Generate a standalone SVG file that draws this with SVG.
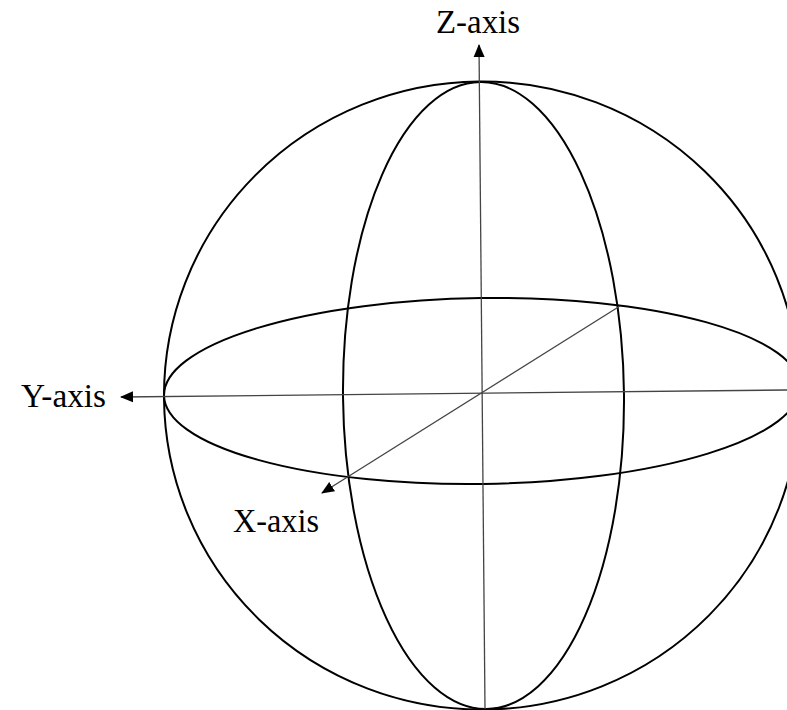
<svg xmlns="http://www.w3.org/2000/svg" width="787" height="710" viewBox="0 0 787 710">
  <style>
    .shape { fill: none; stroke: #000; stroke-width: 2; }
    .axis { fill: none; stroke: #444; stroke-width: 1.3; }
    .label { font-family: "Liberation Serif", "Times New Roman", serif; font-size: 34px; fill: #000; }
  </style>
  <defs>
    <marker id="arrow" markerWidth="13" markerHeight="12" refX="12" refY="5.5" orient="auto" markerUnits="userSpaceOnUse" viewBox="0 0 13 11">
      <path d="M0,0 L13,5.5 L0,11 Z" fill="#000"/>
    </marker>
  </defs>
  <rect width="787" height="710" fill="#fff"/>
  <g id="sphere">
    <ellipse class="shape" cx="482" cy="395.5" rx="318" ry="314" transform="rotate(-0.55 482 395.5)"/>
  </g>
  <g id="equator">
    <ellipse class="shape" cx="482" cy="391" rx="318" ry="93" transform="rotate(-0.8 482 391)"/>
  </g>
  <g id="meridian">
    <ellipse class="shape" cx="483.5" cy="395.5" rx="140.5" ry="313.5" transform="rotate(-0.55 483.5 395.5)"/>
  </g>
  <g id="connectors">
    <line class="axis" x1="485" y1="709" x2="479" y2="45" marker-end="url(#arrow)"/>
    <line class="axis" x1="787" y1="390" x2="121" y2="397" marker-end="url(#arrow)"/>
    <line class="axis" x1="620" y1="306" x2="322" y2="493" marker-end="url(#arrow)"/>
  </g>
  <g id="z-label"><text class="label" x="436" y="33" textLength="84" lengthAdjust="spacingAndGlyphs">Z-axis</text></g>
  <g id="y-label"><text class="label" x="21" y="407" textLength="85" lengthAdjust="spacingAndGlyphs">Y-axis</text></g>
  <g id="x-label"><text class="label" x="233" y="532" textLength="86" lengthAdjust="spacingAndGlyphs">X-axis</text></g>
</svg>
